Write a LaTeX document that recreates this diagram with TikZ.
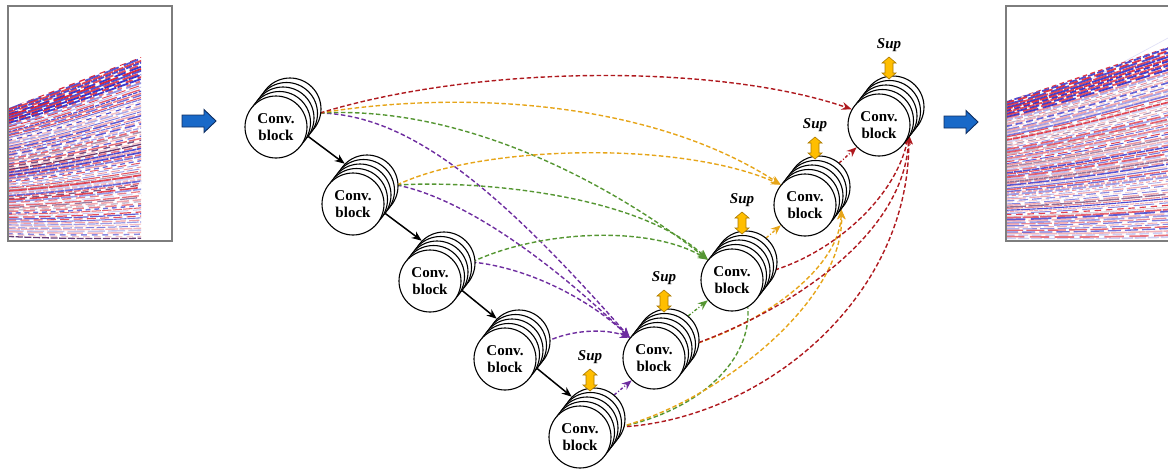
\documentclass[tikz,border=0pt]{standalone}
\usepackage{fontspec}
\setmainfont{Liberation Serif}
\usetikzlibrary{arrows.meta,calc}
\definecolor{cred}{RGB}{175,25,30}
\definecolor{cyel}{RGB}{230,165,25}
\definecolor{cgrn}{RGB}{85,150,50}
\definecolor{cpur}{RGB}{110,45,160}
\definecolor{supf}{RGB}{255,190,0}
\definecolor{supd}{RGB}{170,120,0}
\definecolor{bluef}{RGB}{25,105,200}
\definecolor{blued}{RGB}{15,45,95}
\definecolor{sred}{RGB}{220,30,45}
\definecolor{sblue}{RGB}{40,40,200}
\definecolor{sdark}{RGB}{70,20,90}
\definecolor{framegray}{RGB}{125,125,125}
\pgfdeclarelayer{bg}
\pgfsetlayers{bg,main}
\tikzset{
 bc/.style={circle, draw=black, fill=white, line width=1.1pt, minimum size=62pt, inner sep=0pt},
 cb/.style={bc, font=\fontsize{15}{17}\selectfont\bfseries, align=center},
 suplab/.style={font=\fontsize{15}{17}\selectfont\bfseries\itshape, inner sep=0pt},
 suparr/.style={fill=supf, draw=supd, line width=0.6pt, line join=miter},
 bluearr/.style={fill=bluef, draw=blued, line width=0.9pt, line join=miter},
 blk/.style={line width=1.5pt, -{Stealth[length=10pt,width=8pt]}},
 dsh/.style={line width=1.4pt, dash pattern=on 4.5pt off 2.5pt, -{Stealth[length=10pt,width=8pt]}},
 dshn/.style={line width=1.4pt, dash pattern=on 4.5pt off 2.5pt},
 dd/.style={line width=1.4pt, dash pattern=on 3pt off 2pt on 1pt off 2pt, -{Stealth[length=10pt,width=8pt]}},
 imgframe/.style={draw=framegray, line width=1.8pt, fill=white},
}
\newcommand\stackblk[3]{%
 \node[bc] (#1b) at (#2+14,#3-18) {};
 \node[bc] (#1b3) at (#2+10.5,#3-13.5) {};
 \node[bc] (#1b2) at (#2+7,#3-9) {};
 \node[bc] (#1b1) at (#2+3.5,#3-4.5) {};
 \node[cb] (#1) at (#2,#3) {Conv.\\block};}
\newcommand\supmark[3]{%
 \node[suplab] (#1s) at (#2+10,#3-80) {Sup};
 \draw[suparr] (#2+10,#3-68) -- (#2+17,#3-62) -- (#2+14,#3-62) -- (#2+14,#3-52) -- (#2+17,#3-52)
   -- (#2+10,#3-46) -- (#2+3,#3-52) -- (#2+6,#3-52) -- (#2+6,#3-62) -- (#2+3,#3-62) -- cycle;}
\newcommand\bluearrow[2]{%
 \draw[bluearr] (#1-17,#2-6) -- (#1+5,#2-6) -- (#1+5,#2-11.5) -- (#1+17,#2) -- (#1+5,#2+11.5)
   -- (#1+5,#2+6) -- (#1-17,#2+6) -- cycle;}
\newcommand\seismic[8]{% x0 x1 ytopL ytopR ybot stepL stepR seed
 \begin{scope}
 \clip (#1,#3) -- (#2,#4) -- (#2,#5) -- (#1,#5) -- cycle;
 \pgfmathsetseed{#8}
 \foreach \i in {0,...,44}{
  \pgfmathsetmacro\yl{#3-1+\i*#6}
  \pgfmathsetmacro\yr{#4-1+\i*#7}
  \pgfmathsetmacro\ya{\yl+0.30*(\yr-\yl)+1.5}
  \pgfmathsetmacro\yb{\yl+0.68*(\yr-\yl)+1.5}
  \pgfmathsetmacro\xa{#1+0.33*(#2-#1)}
  \pgfmathsetmacro\xb{#1+0.67*(#2-#1)}
  \pgfmathsetmacro\opa{(\i<6)?(0.75+0.2*rnd):(0.2+0.65*rnd)}
  \pgfmathsetmacro\opb{(\i<6)?(0.75+0.2*rnd):(0.2+0.65*rnd)}
  \pgfmathsetmacro\dona{4+18*rnd}
  \pgfmathsetmacro\doffa{0.5+5*rnd}
  \pgfmathsetmacro\donb{4+18*rnd}
  \pgfmathsetmacro\doffb{0.5+5*rnd}
  \pgfmathsetmacro\lw{(\i<6)?1.8:(0.9+0.9*rnd)}
  \pgfmathsetmacro\rc{rnd}
  \ifdim\rc pt<0.8pt\relax\def\cc{sblue}\else\def\cc{sdark}\fi
  \draw[color=sred, opacity=\opa, line width=\lw pt, dash pattern=on \dona pt off \doffa pt] (#1-2,\yl) .. controls (\xa,\ya) and (\xb,\yb) .. (#2+2,\yr);
  \draw[color=\cc, opacity=\opb, line width=\lw pt, dash pattern=on \donb pt off \doffb pt] (#1-2,\yl+1.8) .. controls (\xa,\ya+1.8) and (\xb,\yb+1.8) .. (#2+2,\yr+1.8);
 }
 \end{scope}}
\begin{document}
\begin{tikzpicture}[x=1pt,y=-1pt]
\useasboundingbox (0,0) rectangle (1168,471);
% left image
\draw[imgframe] (8,6) rectangle (172,241);
\seismic{9}{141}{108}{57}{239}{2.9}{4.1}{7}
% right image
\begin{scope}
\clip (0,0) rectangle (1168,471);
\draw[imgframe] (1006,6) rectangle (1190,241);
\seismic{1007}{1168}{101}{47}{239}{3.1}{4.3}{11}
\draw[sblue, opacity=0.15, line width=0.6pt] (1090,80) -- (1168,38);
\draw[sblue, opacity=0.12, line width=0.6pt] (1110,78) -- (1168,52);
\end{scope}
% blue arrows
\bluearrow{199}{121}
\bluearrow{961}{122}
% blocks
\stackblk{x00}{276}{127}
\stackblk{x10}{353}{204}
\stackblk{x20}{430}{281}
\stackblk{x30}{505}{359}
\stackblk{x40}{580}{437}
\stackblk{x31}{654}{358}
\stackblk{x22}{732}{280}
\stackblk{x13}{805}{205}
\stackblk{x04}{879}{125}
\supmark{x40}{580}{437}
\supmark{x31}{654}{358}
\supmark{x22}{732}{280}
\supmark{x13}{805}{205}
\supmark{x04}{879}{125}
% out coordinates
\coordinate (x00o) at ($(x00)+(44,-14)$);
\coordinate (x10o) at ($(x10)+(44,-19)$);
\coordinate (x20o) at ($(x20)+(42,-19)$);
\coordinate (x30o) at ($(x30)+(41,-17)$);
\coordinate (x40o) at ($(x40)+(40,-10)$);
\coordinate (x31o) at ($(x31)+(38,-13)$);
\coordinate (x22o) at ($(x22)+(36,-8)$);
\begin{pgfonlayer}{bg}
% encoder path
\draw[blk] (x00.-15) -- (x10b.135);
\draw[blk] (x10.-15) -- (x20b.135);
\draw[blk] (x20.-15) -- (x30b.135);
\draw[blk] (x30.-15) -- (x40b.135);
% purple -> x31
\draw[dsh,cpur] (x00o) .. controls (410,115) and (500,190) .. (x31.140);
\draw[dsh,cpur] (x10o) .. controls (470,200) and (560,270) .. (x31.140);
\draw[dsh,cpur] (x20o) .. controls (530,268) and (590,300) .. (x31.140);
\draw[dsh,cpur] (x30o) .. controls (570,330) and (605,328) .. (x31.140);
\draw[dd,cpur] (x40b.50) -- (x31.225);
% green -> x22
\draw[dsh,cgrn] (x00o) .. controls (470,105) and (620,190) .. (x22.140);
\draw[dsh,cgrn] (x10o) .. controls (480,180) and (640,195) .. (x22.140);
\draw[dsh,cgrn] (x20o) .. controls (540,230) and (650,225) .. (x22.140);
\draw[dd,cgrn] (x31b.50) -- (x22.220);
\draw[dshn,cgrn] (x40o) .. controls (700,410) and (752,360) .. (x22.-60);
% yellow -> x13
\draw[dsh,cyel] (x00o) .. controls (460,90) and (650,100) .. (x13.140);
\draw[dsh,cyel] (x10o) .. controls (480,145) and (680,140) .. (x13.140);
\draw[dd,cyel] (x22b.50) -- (x13.220);
\draw[dsh,cyel] (x31o) .. controls (770,320) and (840,265) .. (x13b.-45);
\draw[dsh,cyel] (x40o) .. controls (720,400) and (845,300) .. (x13b.-45);
% red -> x04
\draw[dsh,cred] (x00o) .. controls (480,64) and (720,64) .. (x04.150);
\draw[dd,cred] (x13b.50) -- (x04.225);
\draw[dsh,cred] (x22o) .. controls (830,255) and (895,200) .. (x04b.-60);
\draw[dsh,cred] (x31o) .. controls (790,310) and (905,235) .. (x04b.-60);
\draw[dsh,cred] (x40o) .. controls (760,420) and (910,300) .. (x04b.-60);
\end{pgfonlayer}
\end{tikzpicture}
\end{document}
